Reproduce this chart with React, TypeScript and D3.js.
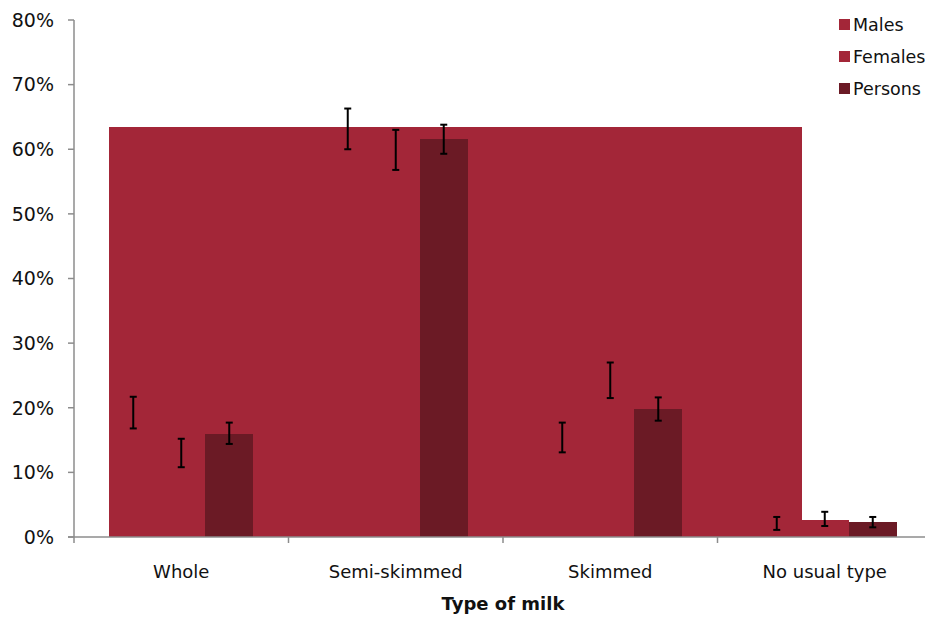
import React from "react";
import * as d3 from "d3";

const categories = ["Whole", "Semi-skimmed", "Skimmed", "No usual type"];
const seriesNames = ["Males", "Females", "Persons"];
const males = [19.2, 63.5, 15.4, 2.1];
const malesLow = [16.8, 60.0, 13.1, 1.1];
const malesHigh = [21.7, 66.3, 17.7, 3.1];
const females = [13.0, 59.9, 24.3, 2.6];
const femalesLow = [10.8, 56.8, 21.5, 1.7];
const femalesHigh = [15.2, 63.0, 27.0, 3.9];
const persons = [15.9, 61.6, 19.8, 2.3];
const personsLow = [14.4, 59.3, 18.0, 1.5];
const personsHigh = [17.7, 63.8, 21.6, 3.1];
const yTicks = [0, 10, 20, 30, 40, 50, 60, 70, 80];

const W = 925;
const H = 617;
const RED = "#A32638";
const DARK = "#6B1A25";
const FONT = "DejaVu Sans, Verdana, sans-serif";

export default function App() {
  const x = d3.scaleBand<string>().domain(categories).range([74, 932]);
  const y = d3.scaleLinear().domain([0, 80]).range([537, 20]);
  const barW = 48;
  const step = 48;
  const series = [
    { name: seriesNames[0], v: males, lo: malesLow, hi: malesHigh, color: RED },
    { name: seriesNames[1], v: females, lo: femalesLow, hi: femalesHigh, color: RED },
    { name: seriesNames[2], v: persons, lo: personsLow, hi: personsHigh, color: DARK },
  ];
  const cx = (c: string, si: number) => (x(c) as number) + x.bandwidth() / 2 + (si - 1) * step;
  const maleMax = d3.max(males) as number;
  const left = cx(categories[0], 0) - barW / 2;
  const right = cx(categories[categories.length - 1], 0) + barW / 2 + 1;

  return (
    <svg width={W} height={H} style={{ position: "absolute", left: 0, top: 0 }} fontFamily={FONT}>
      <rect x={0} y={0} width={W} height={H} fill="#fff" />
      <g shapeRendering="crispEdges">
        {/* Males series rendered as merged block */}
        <rect x={left} y={y(maleMax)} width={right - left} height={y(0) - y(maleMax)} fill={RED} />
        {series.map((s, si) =>
          categories.map((c, ci) => (
            <rect
              key={s.name + c}
              x={cx(c, si) - barW / 2}
              y={y(s.v[ci])}
              width={barW}
              height={y(0) - y(s.v[ci])}
              fill={s.color}
            />
          ))
        )}
      </g>
      {series.map((s, si) =>
        categories.map((c, ci) => {
          const px = cx(c, si);
          return (
            <g key={"e" + s.name + c} stroke="#000" strokeWidth={2}>
              <line x1={px} x2={px} y1={y(s.hi[ci])} y2={y(s.lo[ci])} />
              <line x1={px - 3.5} x2={px + 3.5} y1={y(s.hi[ci])} y2={y(s.hi[ci])} />
              <line x1={px - 3.5} x2={px + 3.5} y1={y(s.lo[ci])} y2={y(s.lo[ci])} />
            </g>
          );
        })
      )}
      {/* y axis */}
      <line x1={74} x2={74} y1={20} y2={537} stroke="#8c8c8c" strokeWidth={1.5} />
      {yTicks.map((t) => (
        <g key={t}>
          <line x1={68} x2={74} y1={y(t)} y2={y(t)} stroke="#8c8c8c" strokeWidth={1.5} />
          <text x={54} y={y(t)} dy="0.36em" textAnchor="end" fontSize={19} fill="#111">
            {t}%
          </text>
        </g>
      ))}
      {/* x axis */}
      <line x1={68} x2={W} y1={537} y2={537} stroke="#8c8c8c" strokeWidth={1.5} />
      {categories.map((c) => (
        <g key={c}>
          <line x1={x(c) as number} x2={x(c) as number} y1={537} y2={543} stroke="#8c8c8c" strokeWidth={1.5} />
          <text x={(x(c) as number) + x.bandwidth() / 2} y={578} textAnchor="middle" fontSize={18} fill="#111">
            {c}
          </text>
        </g>
      ))}
      <text x={503} y={610} textAnchor="middle" fontSize={18} fontWeight="bold" fill="#111">
        Type of milk
      </text>
      {/* legend */}
      {series.map((s, i) => (
        <g key={"l" + s.name}>
          <rect x={839} y={19 + i * 32} width={11} height={11} fill={s.color} />
          <text x={853} y={25 + i * 32} dy="0.36em" fontSize={17.5} fill="#111">
            {s.name}
          </text>
        </g>
      ))}
    </svg>
  );
}
